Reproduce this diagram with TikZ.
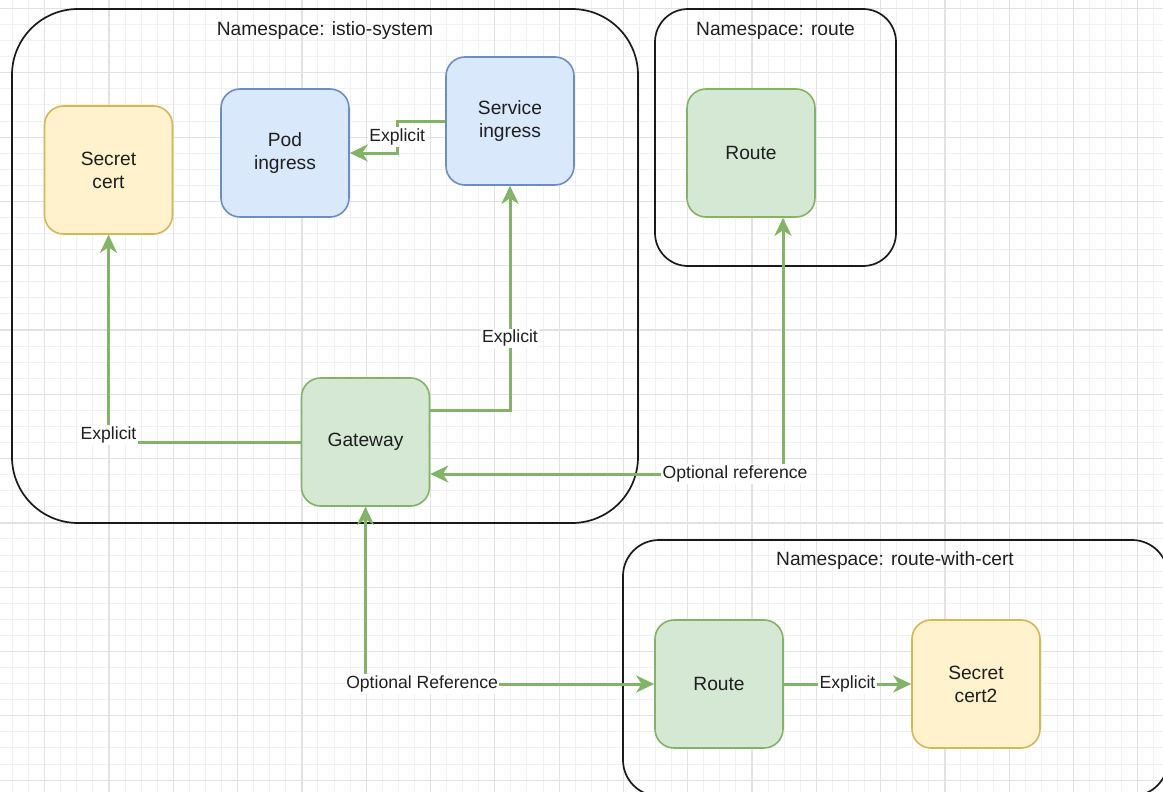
\documentclass[tikz,border=0pt]{standalone}
\usepackage{fontspec}
\setmainfont{Liberation Sans}
\usetikzlibrary{arrows.meta}

\definecolor{txt}{HTML}{1F1F1F}
\definecolor{gridminor}{HTML}{F1F1F1}
\definecolor{gridmajor}{HTML}{E2E2E2}
\definecolor{yellowfill}{HTML}{FFF2CC}
\definecolor{yellowline}{HTML}{D6B656}
\definecolor{bluefill}{HTML}{DAE8FC}
\definecolor{blueline}{HTML}{6C8EBF}
\definecolor{greenfill}{HTML}{D5E8D4}
\definecolor{greenline}{HTML}{82B366}
\definecolor{nsline}{HTML}{1A1A1A}

\tikzset{
  minorline/.style={draw=gridminor, line width=1pt},
  majorline/.style={draw=gridmajor, line width=1.2pt},
  nsbox/.style={draw=nsline, line width=1.7pt},
  nstitle/.style={text=txt, font=\fontsize{19.2}{23}\selectfont, inner sep=0pt},
  card/.style={rounded corners=19pt, minimum width=128pt, minimum height=128pt,
    line width=1.6pt, align=center, text=txt, inner sep=0pt,
    font=\fontsize{19.2}{23}\selectfont},
  secretcard/.style={card, fill=yellowfill, draw=yellowline},
  podcard/.style={card, fill=bluefill, draw=blueline},
  gwcard/.style={card, fill=greenfill, draw=greenline},
  tip/.style={Stealth[length=18pt, width=17pt, inset=5.5pt]},
  link/.style={draw=greenline, line width=3pt, -{Stealth[length=18pt, width=17pt, inset=5.5pt]}},
  biglink/.style={draw=greenline, line width=3pt,
    {Stealth[length=18pt, width=17pt, inset=5.5pt]}-{Stealth[length=18pt, width=17pt, inset=5.5pt]}},
  lbl/.style={fill=white, text=txt, inner sep=1.5pt,
    font=\fontsize{17.6}{21}\selectfont}
}

\begin{document}
\begin{tikzpicture}[x=1pt, y=-1pt]
\useasboundingbox (0,0) rectangle (1163,792);
\clip (0,0) rectangle (1163,792);
\fill[white] (0,0) rectangle (1163,792);

% background grid
\foreach \i in {0,...,72} \draw[minorline] ({12.55+16.075*\i},0) -- ++(0,792);
\foreach \i in {0,...,49} \draw[minorline] (0,{8.5+16.075*\i}) -- ++(1163,0);
\foreach \i in {0,...,18} \draw[majorline] ({-19.6+64.3*\i},0) -- ++(0,792);
\foreach \i in {0,...,12} \draw[majorline] (0,{8.5+64.3*\i}) -- ++(1163,0);

% namespaces
\draw[nsbox, rounded corners=66pt] (12,9) rectangle (638,523);
\node[nstitle] (nsistio) at (325,31) {Namespace: istio-system};
\draw[nsbox, rounded corners=33pt] (655,9) rectangle (896,266);
\node[nstitle] (nsroute) at (775.5,31) {Namespace: route};
\draw[nsbox, rounded corners=36pt] (623,540) rectangle (1168,796);
\node[nstitle] (nscert) at (895,561) {Namespace: route-with-cert};

% resources
\node[secretcard] (secret) at (108.5,170) {Secret\\cert};
\node[podcard] (pod) at (285,153) {Pod\\ingress};
\node[podcard] (svc) at (510,121) {Service\\ingress};
\node[gwcard] (route1) at (751,153) {Route};
\node[gwcard] (gw) at (365.5,442) {Gateway};
\node[gwcard] (route2) at (719,684) {Route};
\node[secretcard] (cert2) at (976,684) {Secret\\cert2};

% references
\draw[link] (gw.west) -| node[lbl, pos=0.517] {Explicit} (secret.south);
\draw[link] ([yshift=32pt]gw.east) -| node[lbl, pos=0.66] {Explicit} (svc.south);
\draw[link] (svc.west) -- ++(-48,0) |- node[lbl, pos=0.25] {Explicit} (pod.east);
\draw[biglink] ([xshift=32pt]route1.south) |- node[lbl, pos=0.568] {Optional reference} ([yshift=-32pt]gw.east);
\draw[biglink] (gw.south) |- node[lbl, pos=0.598] {Optional Reference} (route2.west);
\draw[link] (route2.east) -- node[lbl] {Explicit} (cert2.west);
\end{tikzpicture}
\end{document}
